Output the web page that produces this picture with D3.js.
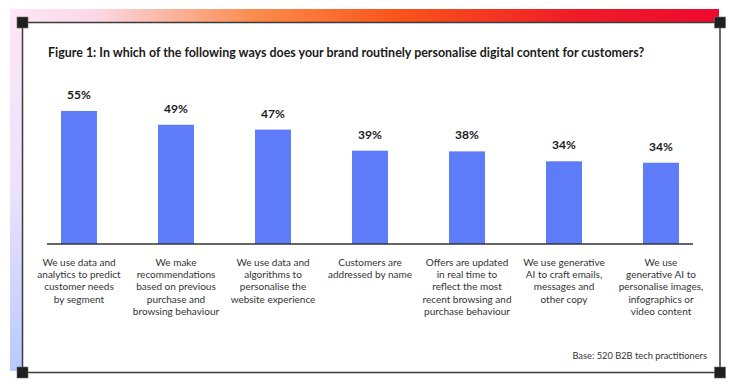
<!DOCTYPE html>
<html>
<head>
<meta charset="utf-8">
<script src="https://cdn.jsdelivr.net/npm/d3@7"></script>
<style>
  html, body { margin: 0; padding: 0; background: #fff; }
  svg { display: block; }
</style>
</head>
<body>
<svg id="chart" width="740" height="391"></svg>
<script>
const title = "Figure 1: In which of the following ways does your brand routinely personalise digital content for customers?";
const categories = [
  "We use data and\nanalytics to predict\ncustomer needs\nby segment",
  "We make\nrecommendations\nbased on previous\npurchase and\nbrowsing behaviour",
  "We use data and\nalgorithms to\npersonalise the\nwebsite experience",
  "Customers are\naddressed by name",
  "Offers are updated\nin real time to\nreflect the most\nrecent browsing and\npurchase behaviour",
  "We use generative\nAI to craft emails,\nmessages and\nother copy",
  "We use\ngenerative AI to\npersonalise images,\ninfographics or\nvideo content"
];
const values = [55, 49.3, 47.3, 38.6, 38.3, 34.2, 33.6];
const valueLabels = ["55%", "49%", "47%", "39%", "38%", "34%", "34%"];
const note = "Base: 520 B2B tech practitioners";

const svg = d3.select("#chart");
const defs = svg.append("defs");

const gTop = defs.append("linearGradient").attr("id", "gTop").attr("x1", "0").attr("x2", "1").attr("y1", "0").attr("y2", "0");
gTop.append("stop").attr("offset", "0").attr("stop-color", "#fde6f6");
gTop.append("stop").attr("offset", "0.12").attr("stop-color", "#fbd8e6");
gTop.append("stop").attr("offset", "0.35").attr("stop-color", "#fb8a4a");
gTop.append("stop").attr("offset", "0.55").attr("stop-color", "#f9541a");
gTop.append("stop").attr("offset", "0.8").attr("stop-color", "#ef1b28");
gTop.append("stop").attr("offset", "1").attr("stop-color", "#ee0a2e");

const gLeft = defs.append("linearGradient").attr("id", "gLeft").attr("x1", "0").attr("x2", "0").attr("y1", "0").attr("y2", "1");
gLeft.append("stop").attr("offset", "0").attr("stop-color", "#fde6f6");
gLeft.append("stop").attr("offset", "0.5").attr("stop-color", "#ece2fb");
gLeft.append("stop").attr("offset", "1").attr("stop-color", "#b9c9ff");

// decorative frame
svg.append("rect").attr("x", 10).attr("y", 9).attr("width", 709).attr("height", 13).attr("fill", "url(#gTop)");
svg.append("rect").attr("x", 10).attr("y", 9).attr("width", 12).attr("height", 362).attr("fill", "url(#gLeft)");
svg.append("rect").attr("x", 22.5).attr("y", 22.5).attr("width", 697.5).attr("height", 350)
  .attr("fill", "#fff").attr("stroke", "#3b3b3b").attr("stroke-width", 1.5);
[[22.5, 22.5], [720, 22.5], [22.5, 372.5], [720, 372.5]].forEach(([cx, cy]) => {
  svg.append("rect").attr("x", cx - 5.5).attr("y", cy - 5.5).attr("width", 11).attr("height", 11)
    .attr("fill", "#1f1f1f").attr("stroke", "#6a6a6a").attr("stroke-width", 0.6);
});

// title
svg.append("text").attr("x", 48).attr("y", 57)
  .attr("font-family", "Lato, 'Open Sans', sans-serif").attr("font-weight", 700).attr("font-size", 12.45)
  .attr("fill", "#1a1a1a").text(title);

// scales
const x = d3.scaleBand().domain(d3.range(categories.length)).range([30.5, 709.5])
  .paddingInner(0.629).paddingOuter(0.3145);
const y = d3.scaleLinear().domain([0, 55]).range([244, 111]);

// bars
svg.append("g").selectAll("rect").data(values).join("rect")
  .attr("x", (d, i) => x(i)).attr("width", x.bandwidth())
  .attr("y", d => y(d)).attr("height", d => y(0) - y(d))
  .attr("fill", "#5e7bfa");

// value labels
svg.append("g").selectAll("text").data(values).join("text")
  .attr("x", (d, i) => x(i) + x.bandwidth() / 2).attr("y", d => y(d) - 12)
  .attr("text-anchor", "middle")
  .attr("font-family", "Lato, 'Open Sans', sans-serif").attr("font-weight", 700).attr("font-size", 12)
  .attr("fill", "#1a1a1a").text((d, i) => valueLabels[i]);

// baseline axis
const axis = d3.axisBottom(x).tickSize(0).tickFormat("");
const axG = svg.append("g").attr("transform", "translate(0,244)").call(axis);
axG.select(".domain").attr("d", "M47,0H693").attr("stroke", "#333").attr("stroke-width", 1.5);

// category labels
const catG = svg.append("g");
categories.forEach((c, i) => {
  const t = catG.append("text").attr("text-anchor", "middle")
    .attr("font-family", "Lato, 'Open Sans', sans-serif").attr("font-size", 10)
    .attr("fill", "#333");
  c.split("\n").forEach((line, j) => {
    t.append("tspan").attr("x", x(i) + x.bandwidth() / 2).attr("y", 265.5 + j * 12.4).text(line);
  });
});

// base note
svg.append("text").attr("x", 707).attr("y", 359).attr("text-anchor", "end")
  .attr("font-family", "Lato, 'Open Sans', sans-serif").attr("font-size", 9.3)
  .attr("fill", "#333").text(note);
</script>
</body>
</html>
